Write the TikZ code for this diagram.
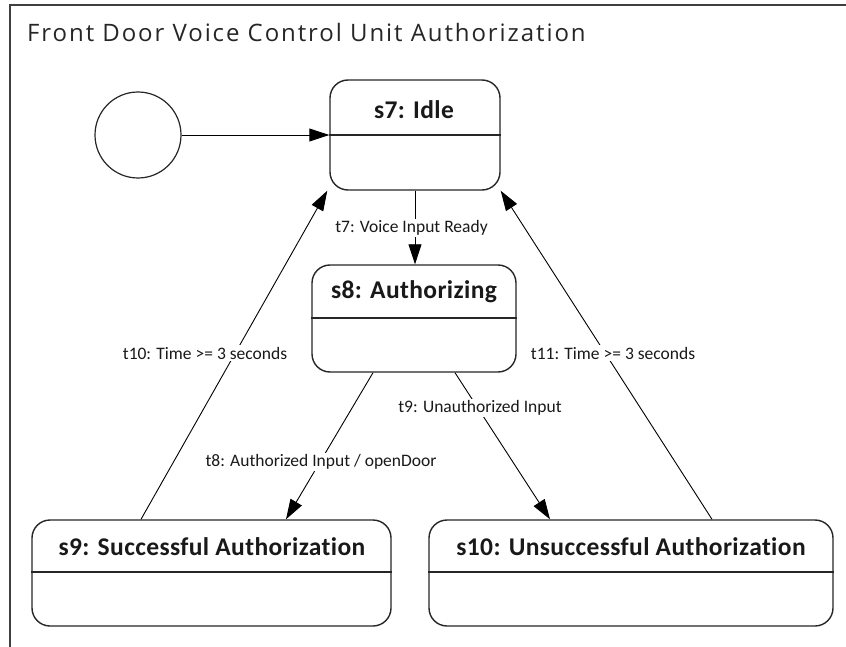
\documentclass[tikz,border=0pt]{standalone}
\usepackage{fontspec}
\setmainfont{Carlito}[Ligatures=NoCommon]
\newfontfamily\titlefont{Open Sans}[LetterSpace=8]
\newfontfamily\statefont{Carlito}[Ligatures=NoCommon,LetterSpace=1.5]
\usetikzlibrary{arrows.meta,calc}
\begin{document}
\begin{tikzpicture}[x=1pt,y=-1pt,
  framepen/.style={draw=black!75,line width=1.4pt},
  statebox/.style={draw=black!85,line width=1.4pt,rounded corners=18pt,fill=white,inner sep=0pt},
  statetitle/.style={font=\statefont\bfseries\fontsize{25.5}{28}\selectfont,inner sep=0pt,text=black!90},
  divider/.style={draw=black!85,line width=1.4pt},
  trans/.style={draw=black,line width=0.9pt,-{Triangle[length=20pt,width=13pt]}},
  translabel/.style={font=\fontsize{17.5}{20}\selectfont,fill=white,inner sep=1.5pt,text=black!90},
  initial/.style={circle,draw=black!85,line width=1.2pt,minimum size=86pt,inner sep=0pt}]
\useasboundingbox (0,0) rectangle (846,647);

% diagram frame and heading
\draw[framepen] (10,647) -- (10,5) -- (846,5);
\node[anchor=base west,inner sep=0pt,font=\titlefont\fontsize{24}{28}\selectfont,text=black!85] (heading) at (27,42) {Front Door Voice Control Unit Authorization};

% initial pseudo-state
\node[initial] (init) at (138,135) {};

% states
\node[statebox,minimum width=170pt,minimum height=110pt] (s7) at (415,135) {};
\node[statebox,minimum width=204pt,minimum height=107pt] (s8) at (414,318.5) {};
\node[statebox,minimum width=359pt,minimum height=106pt] (s9) at (211.5,573) {};
\node[statebox,minimum width=404pt,minimum height=106pt] (s10) at (631,573) {};

% compartment dividers
\draw[divider] (s7.west) -- (s7.east);
\draw[divider] ([yshift=0.5pt]s8.west) -- ([yshift=0.5pt]s8.east);
\draw[divider] ([yshift=1pt]s9.west) -- ([yshift=1pt]s9.east);
\draw[divider] ([yshift=1pt]s10.west) -- ([yshift=1pt]s10.east);

% state names
\node[statetitle] (n7) at (414,110) {s7: Idle};
\node[statetitle] (n8) at (414,292) {s8: Authorizing};
\node[statetitle] (n9) at (212,547) {s9: Successful Authorization};
\node[statetitle] (n10) at (631,547) {s10: Unsuccessful Authorization};

% transitions
\draw[trans] (init.east) -- (s7.west);
\draw[trans] (s7.south) -- (s7.south |- s8.north);
\draw[trans] ([xshift=-41pt]s8.south) -- ([xshift=74.5pt]s9.north);
\draw[trans] ([xshift=41pt]s8.south) -- ([xshift=-81pt]s10.north);
\draw[trans] ([xshift=-70.5pt]s9.north) -- ([xshift=-2pt]s7.south west);
\draw[trans] ([xshift=81pt]s10.north) -- (s7.south east);

% transition labels
\node[translabel] (l7) at (411.5,228) {t7: Voice Input Ready};
\node[translabel] (l10) at (205,353) {t10: Time >= 3 seconds};
\node[translabel] (l11) at (613,353) {t11: Time >= 3 seconds};
\node[translabel] (l8) at (321,462) {t8: Authorized Input / openDoor};
\node[translabel] (l9) at (480,408) {t9: Unauthorized Input};
\end{tikzpicture}
\end{document}
